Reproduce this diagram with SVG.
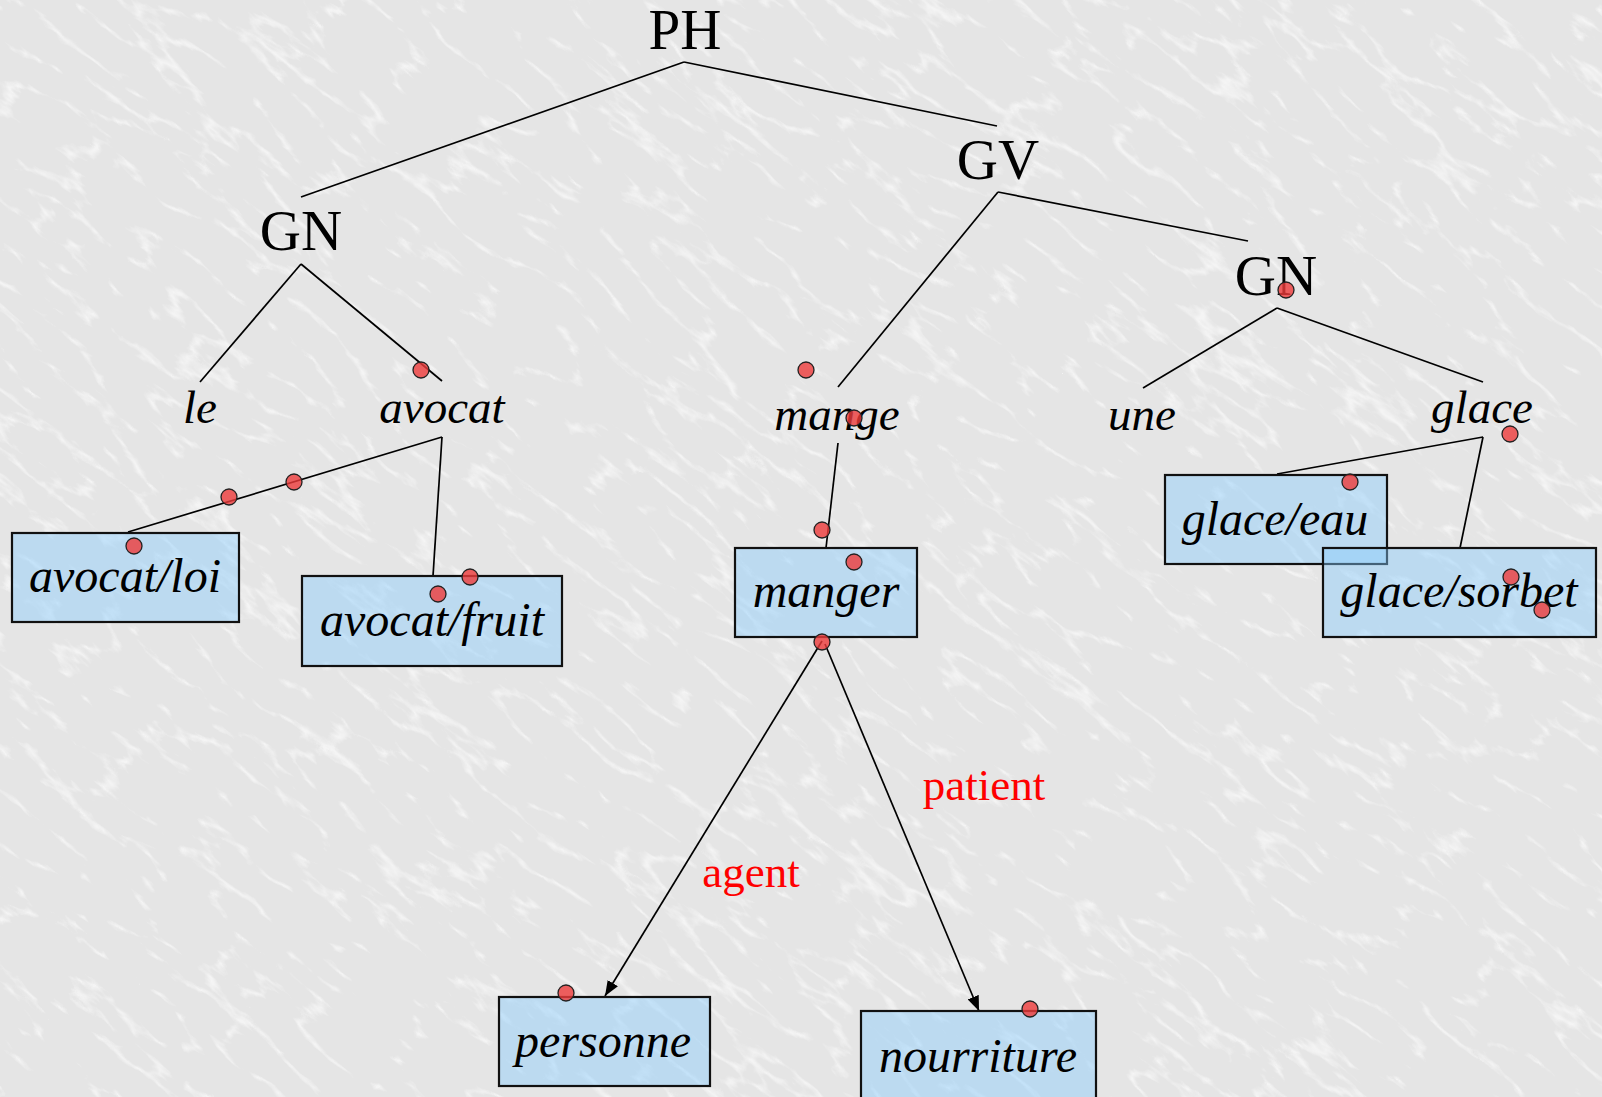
<svg xmlns="http://www.w3.org/2000/svg" width="1602" height="1097" viewBox="0 0 1602 1097">
<defs>
<style>
.cat{font-family:"Liberation Serif","Times New Roman",serif;font-size:57px;fill:#000;text-anchor:middle}
.word{font-family:"Liberation Serif","Times New Roman",serif;font-style:italic;font-size:47px;fill:#000;text-anchor:middle}
.sense{font-family:"Liberation Serif","Times New Roman",serif;font-style:italic;font-size:48px;fill:#000;text-anchor:middle}
.role{font-family:"Liberation Serif","Times New Roman",serif;font-size:45px;fill:#FF0000;text-anchor:middle}
.box{fill:#86CCFF;fill-opacity:0.43;stroke:#111;stroke-width:2.2}
.edge{stroke:#000;stroke-width:1.7;fill:none}
.arrow{stroke:#000;stroke-width:1.7;fill:none;marker-end:url(#ah)}
.dot{fill:#EE3B3B;fill-opacity:0.8;stroke:#222;stroke-width:1.3}
</style>
<marker id="ah" viewBox="0 0 15 12" refX="15" refY="6" markerWidth="15" markerHeight="12" markerUnits="userSpaceOnUse" orient="auto">
<path d="M0,0 L15,6 L0,12 Z" fill="#000"/>
</marker>
<filter id="marble" x="0" y="0" width="100%" height="100%">
<feTurbulence type="turbulence" baseFrequency="0.01 0.03" numOctaves="4" seed="11" result="t"/>
<feColorMatrix in="t" type="matrix" values="0 0 0 0 1  0 0 0 0 1  0 0 0 0 1  -6 0 0 0 1.2"/>
</filter>
</defs>
<rect id="background" x="0" y="0" width="1602" height="1097" fill="#E5E5E5"/>
<g transform="rotate(38 801 548)" opacity="0.6">
<rect x="-600" y="-600" width="2800" height="2300" filter="url(#marble)"/>
</g>

<g id="connectors">
<line class="edge" x1="684" y1="62" x2="301" y2="197"/>
<line class="edge" x1="684" y1="62" x2="997" y2="126"/>
<line class="edge" x1="301" y1="264" x2="200" y2="382"/>
<line class="edge" x1="301" y1="264" x2="442" y2="381"/>
<line class="edge" x1="998" y1="192" x2="838" y2="387"/>
<line class="edge" x1="998" y1="192" x2="1248" y2="241"/>
<line class="edge" x1="1277" y1="308" x2="1143" y2="388"/>
<line class="edge" x1="1277" y1="308" x2="1483" y2="382"/>
<line class="edge" x1="442" y1="437" x2="128" y2="532"/>
<line class="edge" x1="442" y1="437" x2="433" y2="576"/>
<line class="edge" x1="838" y1="443" x2="826" y2="548"/>
<line class="edge" x1="1483" y1="437" x2="1277" y2="474"/>
<line class="edge" x1="1483" y1="437" x2="1460" y2="548"/>
<line class="arrow" x1="822" y1="641" x2="605" y2="996"/>
<line class="arrow" x1="825" y1="644" x2="979" y2="1011"/>
</g>

<g id="node-PH"><text class="cat" x="685" y="49">PH</text></g>
<g id="node-GN1"><text class="cat" x="301" y="250">GN</text></g>
<g id="node-GV"><text class="cat" x="998" y="179">GV</text></g>
<g id="node-GN2"><text class="cat" x="1276" y="295">GN</text></g>
<g id="node-le"><text class="word" x="200" y="423">le</text></g>
<g id="node-avocat"><text class="word" x="442" y="423">avocat</text></g>
<g id="node-mange"><text class="word" x="837" y="430">mange</text></g>
<g id="node-une"><text class="word" x="1142" y="430">une</text></g>
<g id="node-glace"><text class="word" x="1482" y="423">glace</text></g>

<g id="node-avocat-loi"><rect class="box" x="12" y="533" width="227" height="89"/><text class="sense" x="125" y="592">avocat/loi</text></g>
<g id="node-avocat-fruit"><rect class="box" x="302" y="576" width="260" height="90"/><text class="sense" x="432" y="636">avocat/fruit</text></g>
<g id="node-manger"><rect class="box" x="735" y="548" width="182" height="89"/><text class="sense" x="826" y="607">manger</text></g>
<g id="node-glace-eau"><rect class="box" x="1165" y="475" width="222" height="89"/><text class="sense" x="1275" y="535">glace/eau</text></g>
<g id="node-glace-sorbet"><rect class="box" x="1323" y="548" width="273" height="89"/><text class="sense" x="1459" y="607">glace/sorbet</text></g>
<g id="node-personne"><rect class="box" x="499" y="997" width="211" height="89"/><text class="sense" x="603" y="1057">personne</text></g>
<g id="node-nourriture"><rect class="box" x="861" y="1011" width="235" height="95"/><text class="sense" x="978" y="1072">nourriture</text></g>

<g id="label-agent"><text class="role" x="751" y="887">agent</text></g>
<g id="label-patient"><text class="role" x="984" y="800">patient</text></g>

<g id="dots">
<circle class="dot" cx="421" cy="370" r="8"/>
<circle class="dot" cx="229" cy="497" r="8"/>
<circle class="dot" cx="294" cy="482" r="8"/>
<circle class="dot" cx="134" cy="546" r="8"/>
<circle class="dot" cx="470" cy="577" r="8"/>
<circle class="dot" cx="438" cy="594" r="8"/>
<circle class="dot" cx="806" cy="370" r="8"/>
<circle class="dot" cx="854" cy="418" r="8"/>
<circle class="dot" cx="822" cy="530" r="8"/>
<circle class="dot" cx="854" cy="562" r="8"/>
<circle class="dot" cx="822" cy="642" r="8"/>
<circle class="dot" cx="1286" cy="290" r="8"/>
<circle class="dot" cx="1510" cy="434" r="8"/>
<circle class="dot" cx="1350" cy="482" r="8"/>
<circle class="dot" cx="1511" cy="577" r="8"/>
<circle class="dot" cx="1542" cy="610" r="8"/>
<circle class="dot" cx="566" cy="993" r="8"/>
<circle class="dot" cx="1030" cy="1009" r="8"/>
</g>
</svg>
